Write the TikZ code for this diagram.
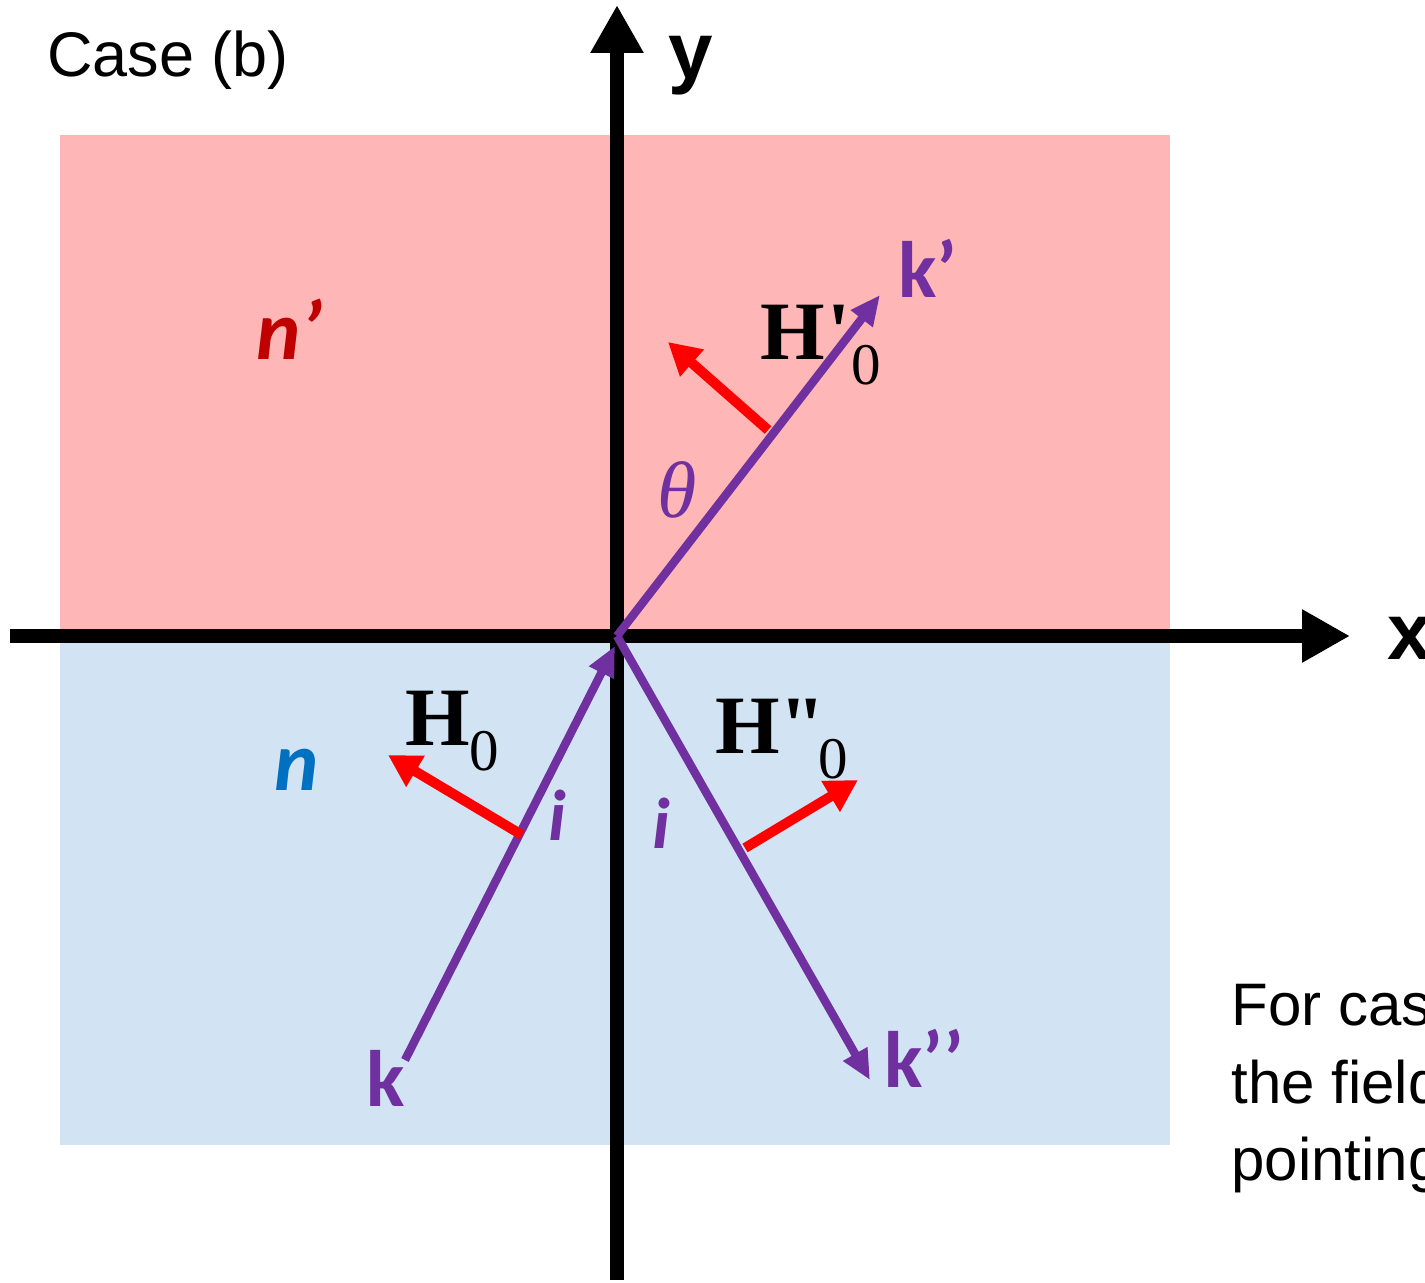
\documentclass[tikz,border=0pt]{standalone}
\usepackage{fontspec}
\setmainfont{Liberation Sans}
\newfontfamily\serifH{Liberation Serif}
\newfontfamily\calfont{Carlito}
\usetikzlibrary{arrows.meta}
\definecolor{pinkbg}{RGB}{255,182,182}
\definecolor{bluebg}{RGB}{210,228,243}
\definecolor{raypurple}{RGB}{112,48,160}
\definecolor{nred}{RGB}{192,0,0}
\definecolor{nblue}{RGB}{0,112,192}
\tikzset{
  axis/.style={line width=7pt,-{Triangle[length=24pt,width=25pt]}},
  ray/.style={raypurple,line width=4.2pt},
  raytip/.style={ray,-{Triangle[length=15pt,width=13pt]}},
  field/.style={red,line width=5pt,-{Triangle[length=16pt,width=17pt]}},
  lbl/.style={inner sep=0pt,anchor=base west},
  klbl/.style={lbl,raypurple,font=\calfont\bfseries\fontsize{40}{40}\selectfont},
  ilbl/.style={lbl,raypurple,font=\calfont\bfseries\itshape\fontsize{36}{36}\selectfont},
  Hlbl/.style={lbl,font=\serifH\bfseries\fontsize{41.5}{41.5}\selectfont},
  txt/.style={lbl,font=\fontsize{30}{30}\selectfont}
}
\newcommand{\subz}{\raisebox{-12.5pt}{\fontsize{29.5}{29.5}\mdseries\selectfont 0}}
\begin{document}
\begin{tikzpicture}[x=0.5pt,y=-0.5pt]
\useasboundingbox (0,0) rectangle (1425,1283);
\begin{scope}
\clip (0,0) rectangle (1425,1283);
% media
\fill[pinkbg] (60,135) rectangle (1170,632);
\fill[bluebg] (60,640) rectangle (1170,1145);
% coordinates
\coordinate (O) at (617,636);
\coordinate (Oin) at (615,646);
\coordinate (xs) at (10,636);
\coordinate (xe) at (1350,636);
\coordinate (ys) at (617,1280);
\coordinate (ye) at (617,5);
\coordinate (kpE) at (880,295);
\coordinate (kS) at (405,1060);
\coordinate (krE) at (870,1080);
\coordinate (hpS) at (768,430);
\coordinate (hpE) at (668,342);
\coordinate (hS) at (522,835);
\coordinate (hE) at (388,755);
\coordinate (hrS) at (745,848);
\coordinate (hrE) at (858,780);
% axes
\draw[axis] (xs) -- (xe);
\draw[axis] (ys) -- (ye);
% rays
\draw[raytip] (O) -- (kpE);
\draw[raytip] (kS) -- (Oin);
\draw[raytip] (O) -- (krE);
% fields
\draw[field] (hpS) -- (hpE);
\draw[field] (hS) -- (hE);
\draw[field] (hrS) -- (hrE);
% labels
\node[txt,font=\fontsize{31.5}{31.5}\selectfont] (case) at (47,77) {Case (b)};
\node[lbl,font=\bfseries\fontsize{40}{40}\selectfont] (ylab) at (668,79) {y};
\node[lbl,font=\bfseries\fontsize{40}{40}\selectfont] (xlab) at (1387,659) {x};
\node[Hlbl] (Hp) at (760,360) {H\kern1.5pt'\subz};
\node[Hlbl] (H) at (405,745) {H\subz};
\node[Hlbl] (Hr) at (715,753) {H"\kern-4pt\subz};
\node[klbl] (kp) at (898,298) {k’};
\node[klbl] (k) at (366,1106) {k};
\node[klbl] (kr) at (884,1087) {k’’};
\node[lbl,nred,font=\calfont\bfseries\itshape\fontsize{42}{42}\selectfont] (np) at (256,360) {n’};
\node[lbl,nblue,font=\calfont\bfseries\itshape\fontsize{42}{42}\selectfont] (n) at (274,790) {n};
\node[lbl,raypurple,font=\serifH\itshape\fontsize{40}{40}\selectfont] (th) at (657,518) {θ};
\node[ilbl] (i1) at (548,840) {i};
\node[ilbl] (i2) at (652,848) {i};
\node[txt] (t1) at (1231,1025) {For case};
\node[txt] (t2) at (1231,1103) {the field};
\node[txt] (t3) at (1231,1180) {pointing};
\end{scope}
\end{tikzpicture}
\end{document}
